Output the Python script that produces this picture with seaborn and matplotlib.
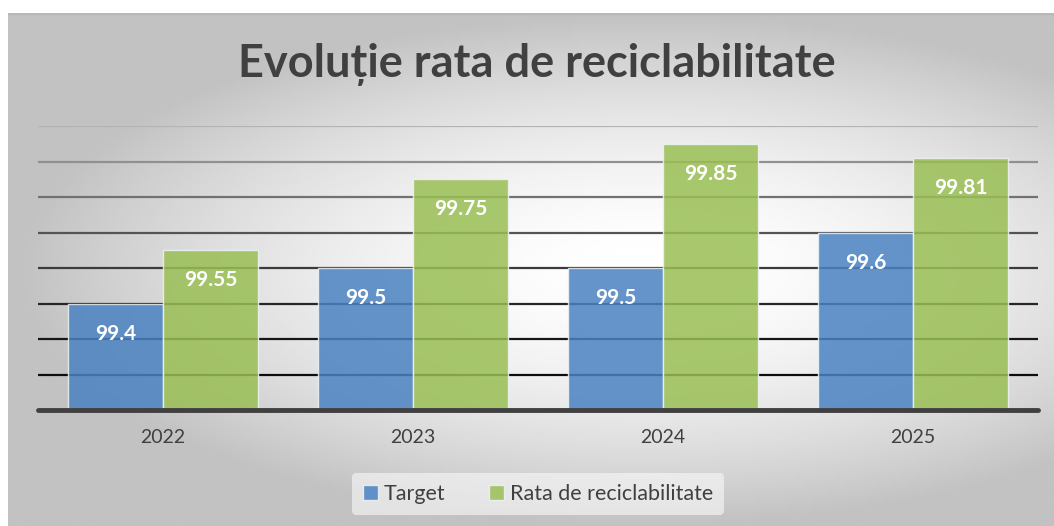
import numpy as np
import pandas as pd
import matplotlib
matplotlib.use("Agg")
import matplotlib.pyplot as plt
import seaborn as sns

years = ["2022", "2023", "2024", "2025"]
target = [99.4, 99.5, 99.5, 99.6]
rata = [99.55, 99.75, 99.85, 99.81]
series_names = ["Target", "Rata de reciclabilitate"]
y_ticks = [99.1, 99.2, 99.3, 99.4, 99.5, 99.6, 99.7, 99.8, 99.9]

df = pd.DataFrame({
    "an": years * 2,
    "valoare": target + rata,
    "serie": [series_names[0]] * 4 + [series_names[1]] * 4,
})

sns.set_theme(style="white")
plt.rcParams["font.family"] = ["Lato", "DejaVu Sans"]

fig = plt.figure(figsize=(10.54, 5.26), dpi=100)

# fundal cu gradient radial
bg = fig.add_axes([8 / 1054, 0, 1046 / 1054, 513 / 526])
gx, gy = np.meshgrid(np.linspace(-1, 1, 400), np.linspace(-1, 1, 200))
r = np.sqrt(((gx - 0.22) / 1.2) ** 2 + ((gy - 0.0) / 1.0) ** 2)
bg.imshow(1 - 0.24 * np.clip(r, 0, 1) ** 1.7, cmap="gray", vmin=0, vmax=1,
          aspect="auto", extent=[0, 1, 0, 1])
bg.axhline(1, color="#b8b8b8", lw=2.5)
bg.set_axis_off()

ax = fig.add_axes([38 / 1054, 116 / 526, 1000 / 1054, 284 / 526])
ax.patch.set_alpha(0)

# linii de grila, mai deschise sus
for i, t in enumerate(y_ticks[1:]):
    shade = 0.05 + 0.65 * (i / (len(y_ticks) - 2)) ** 1.5
    ax.axhline(t, color=str(shade), lw=1.6, zorder=1)

sns.barplot(data=df, x="an", y="valoare", hue="serie",
            palette=["#4A82C2", "#9ABF55"], width=0.76, ax=ax,
            alpha=0.85, saturation=1, edgecolor="#eef2f4", linewidth=1, zorder=2,
            legend=True)

ax.set_ylim(99.1, 99.9)
ax.set_xlim(-0.5, 3.5)
ax.axhline(99.1, color="#404040", lw=3.5, zorder=3, clip_on=False)

for cont in ax.containers:
    for bar in cont:
        h = bar.get_height()
        ax.text(bar.get_x() + bar.get_width() / 2, h - 0.085, f"{h:g}",
                ha="center", va="center", color="white", fontsize=15,
                fontweight="bold", zorder=4)

ax.set_yticks([])
ax.set_xlabel("")
ax.set_ylabel("")
ax.tick_params(axis="x", length=0, pad=14, labelsize=14, labelcolor="#404040")
for s in ax.spines.values():
    s.set_visible(False)

handles, labels = ax.get_legend_handles_labels()
ax.get_legend().remove()
leg = fig.legend(handles, labels, loc="center", bbox_to_anchor=(538 / 1054, 1 - 494 / 526),
                 ncol=2, frameon=True, fontsize=15.5, handlelength=0.7, handleheight=0.7,
                 handletextpad=0.3, columnspacing=2.0, borderpad=0.5)
leg.get_frame().set_facecolor("#fafafa")
leg.get_frame().set_alpha(0.6)
leg.get_frame().set_edgecolor("none")
for t in leg.get_texts():
    t.set_color("#404040")

fig.text(537 / 1054, 1 - 64 / 526, "Evoluție rata de reciclabilitate", ha="center", va="center",
         fontsize=32.5, fontweight="bold", color="#404040")

fig.savefig("out.png", dpi=100)
